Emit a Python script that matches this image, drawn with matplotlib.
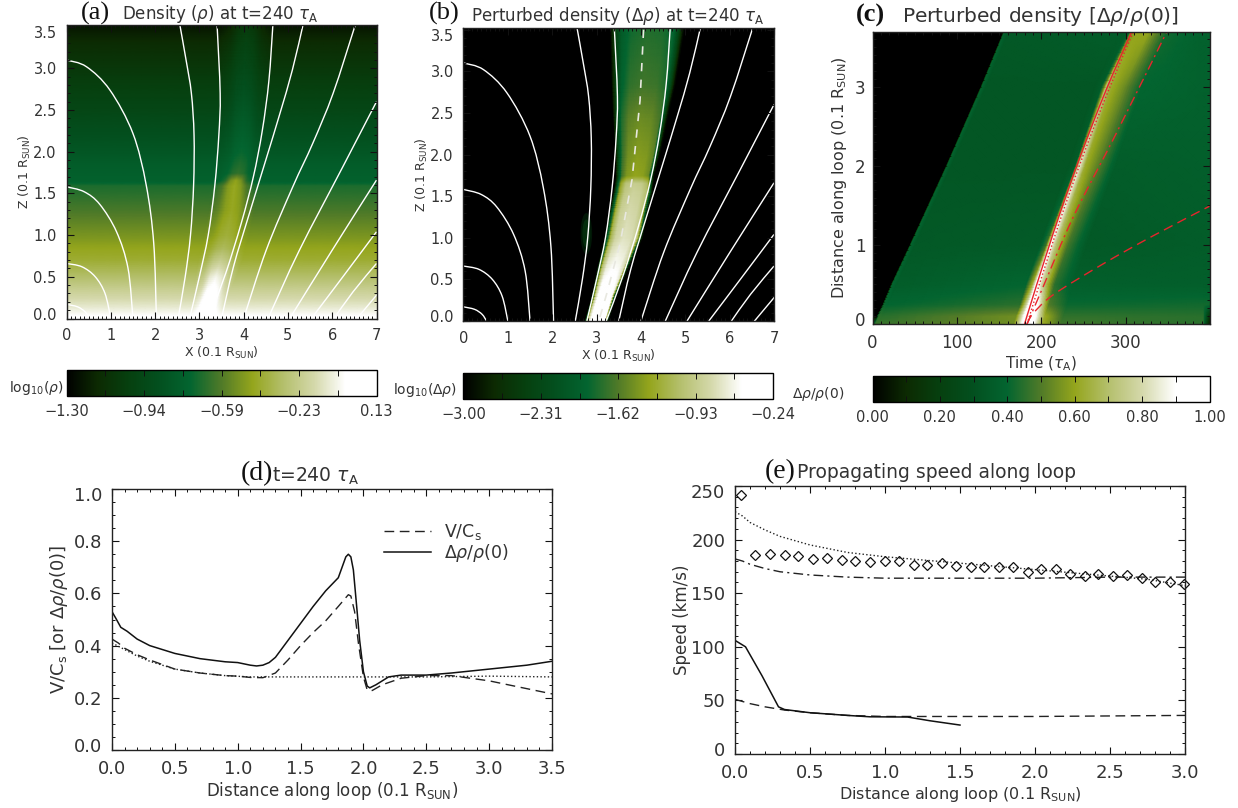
import numpy as np
import matplotlib
matplotlib.use("Agg")
import matplotlib.pyplot as plt
from matplotlib.colors import LinearSegmentedColormap
from matplotlib.cm import ScalarMappable
from matplotlib.colors import Normalize
from matplotlib.path import Path
from matplotlib.patches import PathPatch, Ellipse
from matplotlib.ticker import MultipleLocator
from matplotlib.transforms import ScaledTranslation

W, H = 1238, 808
plt.rcParams.update({'font.family': 'DejaVu Sans', 'mathtext.fontset': 'dejavusans',
                     'text.color': '#333333', 'xtick.color': '#111111', 'ytick.color': '#111111',
                     'xtick.labelcolor': '#333333', 'ytick.labelcolor': '#333333',
                     'axes.labelcolor': '#333333'})

# colour table
cmap_anchor = [0.0, 0.1, 0.2, 0.3, 0.4, 0.5, 0.6, 0.7, 0.8, 0.9, 1.0]
cmap_colors = ['#000000', '#0c2a02', '#06400f', '#03501f', '#036530', '#507a28', '#94a51c',
               '#b4bf6c', '#d4d8aa', '#ffffff', '#ffffff']
AIA = LinearSegmentedColormap.from_list('green', list(zip(cmap_anchor, cmap_colors)), N=512)

# magnetic field lines shared by panels a and b: (x, z)
field_x = [
    [0, .25, .42, .52],
    [0, .35, .65, .87, 1.0],
    [0, .4, .75, 1.13, 1.39, 1.5],
    [0, .45, .98, 1.5, 1.8, 1.97, 2.03],
    [2.56, 2.7, 2.82, 2.88, 2.87, 2.8, 2.68, 2.52],
    [3.40, 3.47, 3.44, 3.35, 3.2, 3.0, 2.78],
    [4.66, 4.57, 4.42, 4.22, 3.95, 3.6, 3.22],
    [5.34, 5.1, 4.82, 4.5, 4.13, 3.77, 3.5],
    [6.52, 6.02, 5.56, 5.11, 4.51, 4.0],
    [7.0, 6.24, 5.26, 4.55],
    [7.0, 6.0, 5.04],
    [7.0, 6.24, 5.53],
    [7.0, 6.47, 6.04],
    [7.0, 6.56],
]
field_z = [
    [.17, .14, .08, 0],
    [.66, .62, .5, .3, 0],
    [1.58, 1.52, 1.37, 1.04, .6, 0],
    [3.1, 3.02, 2.74, 2.22, 1.6, .9, 0],
    [3.52, 3.1, 2.7, 2.2, 1.6, 1.0, .5, 0],
    [3.52, 2.7, 2.2, 1.6, 1.0, .5, 0],
    [3.52, 2.85, 2.25, 1.7, 1.15, .55, 0],
    [3.52, 2.98, 2.46, 1.9, 1.26, .62, 0],
    [3.52, 2.7, 2.1, 1.58, .82, 0],
    [2.6, 1.82, .82, 0],
    [1.66, .82, 0],
    [1.04, .5, 0],
    [.66, .32, 0],
    [.28, 0],
]

# panel a: background by height and plume ridge
a_z = [0, .15, .3, .5, .7, .85, 1.0, 1.3, 1.6, 1.66, 1.75, 1.85, 2.0, 2.5, 3.0, 3.3, 3.52]
a_bg = [.92, .84, .78, .70, .63, .60, .56, .49, .43, .38, .37, .36, .33, .24, .16, .11, .05]
a_peak = [1.0, 1.0, .95, .88, .76, .68, .64, .61, .61, .60, .46, .44, .41, .34, .26, .22, .18]
a_ridge = [3.12, 3.2, 3.28, 3.38, 3.48, 3.55, 3.62, 3.74, 3.8, 3.83, 3.88, 3.92, 3.96, 4.0, 4.02, 4.05, 4.08]
a_width = [.32, .35, .4, .46, .5, .5, .52, .52, .48, .4, .42, .45, .5, .55, .6, .6, .6]
a_shape = [0, .3, .8, 1, .8, .3, 0]
a_offset = [-1, -.6, -.3, 0, .3, .6, 1]

# panel b: perturbed plume between two edges
b_z = [0, .3, .65, 1.0, 1.37, 1.55, 1.66, 1.75, 2.0, 2.45, 2.85, 3.52]
b_left = [2.78, 2.94, 3.08, 3.25, 3.38, 3.45, 3.48, 3.5, 3.5, 3.46, 3.44, 3.42]
b_right = [3.23, 3.4, 3.68, 3.98, 4.12, 4.2, 4.22, 4.24, 4.36, 4.52, 4.68, 4.87]
b_peak = [1.0, .98, .90, .83, .80, .78, .76, .60, .58, .54, .48, .44]
b_frac = [-.08, 0, .1, .25, .5, .75, .92, 1.0, 1.08]
b_shape = [0, .45, .8, .95, 1, .98, .9, .55, 0]
b_dash_x = [4.06, 3.98, 3.8, 3.53, 3.23, 3.05]
b_dash_z = [3.5, 2.65, 1.7, .93, .33, 0]

# panel c: time-distance map
c_z = [0, .1, .25, .5, 1.0, 2.0, 3.0, 3.7]
c_front = [3, 7, 14, 24, 46, 89, 130, 157]
c_ridge = [181, 184, 189, 196, 212, 246, 277, 307]
c_offset = [-14, -6, -2, 0, 6, 20, 42]
c_vals = [
    [.47, .47, .47, .47, .55, .85, 1, 1, 1, .62, .48, .45, .02],
    [0, 0, .46, .45, .55, .85, 1, 1, 1, .62, .46, .45, .12],
    [0, 0, .41, .40, .45, .80, 1, 1, .95, .50, .41, .42, .42],
    [0, 0, .40, .36, .40, .65, .95, .95, .75, .45, .37, .37, .37],
    [0, 0, .40, .34, .35, .48, .85, .90, .70, .48, .34, .36, .36],
    [0, 0, .39, .33, .33, .36, .75, .85, .62, .52, .36, .37, .37],
    [0, 0, .39, .33, .33, .36, .55, .72, .62, .55, .40, .38, .38],
    [0, 0, .39, .34, .36, .36, .40, .55, .60, .60, .42, .38, .38],
]
red_solid_t = [180, 214, 246, 277, 307]
red_solid_z = [0, 1.15, 2.12, 2.97, 3.7]
red_dot_t = [183, 217, 249, 280, 309]
red_dot_z = [0, 1.15, 2.12, 2.97, 3.7]
red_dd_t = [183, 202, 238, 289, 348.6]
red_dd_z = [0, .47, 1.36, 2.42, 3.7]
red_dash_t = [183, 190, 214, 273, 333, 399]
red_dash_z = [0, .13, .37, .76, 1.12, 1.49]

# panel d
d_x_solid = [0, .03, .07, .12, .2, .3, .4, .5, .7, .9, 1.0, 1.1, 1.15, 1.2, 1.25, 1.3, 1.4, 1.5, 1.6, 1.7, 1.75,
             1.8, 1.83, 1.86, 1.88, 1.9, 1.92, 1.95, 1.97, 2.0, 2.03, 2.05, 2.1, 2.2, 2.3, 2.5, 2.7, 3.0, 3.3, 3.5]
d_solid = [.53, .505, .47, .455, .425, .40, .385, .37, .35, .338, .335, .325, .322, .325, .335, .355, .42, .485,
           .55, .61, .635, .66, .70, .74, .75, .74, .69, .53, .42, .30, .245, .238, .25, .28, .287, .287, .295,
           .31, .325, .34]
d_x_dash = [0, .05, .1, .2, .3, .5, .7, .9, 1.0, 1.1, 1.2, 1.3, 1.4, 1.5, 1.6, 1.7, 1.8, 1.88, 1.9, 1.93, 1.96,
            2.0, 2.03, 2.07, 2.15, 2.3, 2.5, 2.7, 3.0, 3.3, 3.5]
d_dash = [.425, .41, .39, .365, .345, .31, .295, .285, .283, .278, .277, .295, .345, .40, .45, .495, .55, .595,
          .59, .53, .41, .28, .23, .228, .25, .275, .285, .285, .265, .235, .215]
d_x_dot = [0, .1, .2, .3, .5, .7, .9, 1.1, 1.5, 2.0, 2.5, 3.0, 3.5]
d_dot = [.41, .385, .36, .34, .31, .295, .285, .28, .28, .28, .28, .283, .28]

# panel e
e_x_diam = [.04, .13, .23, .33, .42, .52, .61, .71, .8, .9, 1.0, 1.09, 1.19, 1.28, 1.38, 1.47, 1.57, 1.66, 1.76,
            1.85, 1.95, 2.04, 2.14, 2.23, 2.33, 2.42, 2.52, 2.61, 2.71, 2.8, 2.9, 2.99]
e_diam = [242, 186, 187, 186, 185, 182, 183, 181, 180, 179, 180, 180, 176, 176, 178, 175, 174, 174, 174, 174, 170,
          173, 173, 168, 166, 168, 166, 167, 164, 160, 160, 159]
e_x_dot = [0, .05, .1, .2, .3, .5, .75, 1.0, 1.25, 1.5, 1.75, 2.0, 2.25, 2.5, 2.75, 3.0]
e_dot = [226, 222, 216, 209, 203, 195, 188, 184, 181, 178, 175, 172, 169, 166, 163, 157]
e_x_dd = [0, .05, .1, .2, .3, .5, .75, 1.0, 1.5, 2.0, 2.5, 3.0]
e_dd = [182, 180, 177, 173, 170, 167, 165, 164, 164, 164, 165, 165]
e_x_solid = [0, .07, .18, .29, .33, .5, .75, .9, 1.15, 1.3, 1.5]
e_solid = [106, 100, 73, 44, 41.5, 38.5, 36, 34.7, 34.5, 31, 27]
e_x_dash = [0, .1, .2, .33, .5, .75, 1.0, 1.5, 2.0, 2.5, 3.0]
e_dash = [51, 47, 44, 41, 38.5, 36, 35, 35, 35, 35.5, 36]

# colour bars
cb_a = ['\u22121.30', '\u22120.94', '\u22120.59', '\u22120.23', '0.13']
cb_b = ['\u22123.00', '\u22122.31', '\u22121.62', '\u22120.93', '\u22120.24']
cb_c = ['0.00', '0.20', '0.40', '0.60', '0.80', '1.00']

fig = plt.figure(figsize=(W / 100, H / 100), dpi=100, facecolor='white')


def axpx(l, t, r, b):
    return fig.add_axes([l / W, 1 - b / H, (r - l) / W, (b - t) / H])


def tpx(x, y, s, **kw):
    kw.setdefault('va', 'center')
    kw.setdefault('ha', 'left')
    fig.text(x / W, 1 - y / H, s, **kw)


def refine(a, k=8):
    a = np.asarray(a, float)
    r = np.arange((a.shape[0] - 1) * k + 1) / k
    c = np.arange((a.shape[1] - 1) * k + 1) / k
    a1 = np.array([np.interp(r, np.arange(a.shape[0]), a[:, j]) for j in range(a.shape[1])]).T
    return np.array([np.interp(c, np.arange(a.shape[1]), row) for row in a1])


def smooth_line(ax, xs, zs, **kw):
    p = np.column_stack([xs, zs]).astype(float)
    if len(p) < 3:
        ax.plot(xs, zs, **kw)
        return
    verts = [p[0]]
    codes = [Path.MOVETO]
    for i in range(len(p) - 1):
        p0 = p[max(i - 1, 0)]
        p1 = p[i]
        p2 = p[i + 1]
        p3 = p[min(i + 2, len(p) - 1)]
        verts += [p1 + (p2 - p0) / 6, p2 - (p3 - p1) / 6, p2]
        codes += [Path.CURVE4] * 3
    ax.add_patch(PathPatch(Path(verts, codes), fill=False, **kw))


def style(ax, xmaj, xmin, ymaj, ymin, size, pad=7, xpad=None):
    ax.xaxis.set_major_locator(MultipleLocator(xmaj))
    ax.xaxis.set_minor_locator(MultipleLocator(xmin))
    ax.yaxis.set_major_locator(MultipleLocator(ymaj))
    ax.yaxis.set_minor_locator(MultipleLocator(ymin))
    ax.tick_params(which='major', direction='in', top=True, right=True, length=5, width=.8,
                   labelsize=size, pad=pad)
    if xpad is not None:
        ax.tick_params(axis='x', which='major', pad=xpad)
    ax.tick_params(which='minor', direction='in', top=True, right=True, length=2.5, width=.7)
    for s in ax.spines.values():
        s.set_linewidth(1.0)
        s.set_color('#222222')


def edge_labels(ax, fmt, top=True):
    lo, hi = ax.get_ylim()
    tks = [t for t in ax.get_yticks() if lo - 1e-6 <= t <= hi + 1e-6]
    ax.set_yticks(tks)
    ax.set_yticklabels([fmt.format(t) for t in tks])
    ticklabs = ax.get_yticklabels()
    shift = ScaledTranslation(0, 5 / 100, fig.dpi_scale_trans)
    ticklabs[0].set_transform(ticklabs[0].get_transform() + shift)
    if top:
        shift = ScaledTranslation(0, -5 / 100, fig.dpi_scale_trans)
        ticklabs[-1].set_transform(ticklabs[-1].get_transform() + shift)


def colorbar(l, t, r, b, labels, name, nx, ny):
    cax = axpx(l, t, r, b)
    cb = fig.colorbar(ScalarMappable(Normalize(0, 1), AIA), cax=cax, orientation='horizontal')
    n = len(labels) - 1
    cb.set_ticks(np.linspace(0, 1, n + 1), labels=labels)
    cb.ax.set_xticks(np.linspace(0, 1, 2 * n + 1), minor=True)
    cax.tick_params(which='both', direction='in', top=True, bottom=True, length=4, width=.7)
    cax.tick_params(which='major', labelsize=10.5, pad=6)
    cb.outline.set_linewidth(1.0)
    tpx(nx, ny, name, fontsize=10)


ZLBL = 'Z (0.1 R$_{\\mathrm{SUN}}$)'
XLBL = 'X (0.1 R$_{\\mathrm{SUN}}$)'
DLBL = 'Distance along loop (0.1 R$_{\\mathrm{SUN}}$)'
SERIF = dict(family='Liberation Serif', color='#111111')

# ---------------- panel a
ax = axpx(66.5, 25, 376.5, 318.5)
X, Z, C = [], [], []
for z, bg, pk, r, w in zip(a_z, a_bg, a_peak, a_ridge, a_width):
    xs = [0.0] + [r + o * w for o in a_offset] + [7.0]
    cs = [bg] + [bg + s * (pk - bg) for s in a_shape] + [bg]
    X.append(xs)
    C.append(cs)
    Z.append([z] * len(xs))
ax.pcolormesh(refine(X), refine(Z), refine(C), shading='gouraud', cmap=AIA, vmin=0, vmax=1)
for fx, fz in zip(field_x, field_z):
    smooth_line(ax, fx, fz, color='white', lw=1.0)
ax.set_xlim(0, 7)
ax.set_ylim(0, 3.52)
style(ax, 1, .1, .5, .1, 10.5, xpad=7)
edge_labels(ax, '{:.1f}')
ax.set_xlabel(XLBL, fontsize=9, labelpad=1.5)
ax.set_ylabel(ZLBL, fontsize=9, labelpad=0)
colorbar(66.5, 370, 376.5, 396, cb_a, 'log$_{10}$($\\rho$)', 9, 388)
tpx(81, 13.5, '(a)', fontsize=19, **SERIF)
tpx(122, 14, 'Density ($\\rho$) at t=240 $\\tau_{\\mathrm{A}}$', fontsize=12)

# ---------------- panel b
ax = axpx(463.5, 28, 774, 321)
ax.set_facecolor('black')
X, Z, C = [], [], []
for z, l, r, pk in zip(b_z, b_left, b_right, b_peak):
    xs = [l + f * (r - l) for f in b_frac]
    cs = [s * pk for s in b_shape]
    X.append(xs)
    C.append(cs)
    Z.append([z] * len(xs))
ax.pcolormesh(refine(X), refine(Z), refine(C), shading='gouraud', cmap=AIA, vmin=0, vmax=1)
for w_, a_ in ((.26, .35), (.18, .5)):
    ax.add_patch(Ellipse((2.77, 1.05), w_, w_ * 1.9, color=AIA(.22), alpha=a_, lw=0))
for fx, fz in zip(field_x, field_z):
    smooth_line(ax, fx, fz, color='white', lw=1.0)
ax.plot(b_dash_x, b_dash_z, color='#e8e8e0', lw=1.2, dashes=(5, 5))
ax.set_xlim(0, 7)
ax.set_ylim(0, 3.52)
style(ax, 1, .1, .5, .1, 10.5, xpad=7)
edge_labels(ax, '{:.1f}')
ax.set_xlabel(XLBL, fontsize=9, labelpad=1.5)
ax.set_ylabel(ZLBL, fontsize=9, labelpad=0)
colorbar(463.5, 373, 773, 399, cb_b, 'log$_{10}$($\\Delta\\rho$)', 393, 390)
tpx(429, 13.5, '(b)', fontsize=19, **SERIF)
tpx(471, 16, 'Perturbed density ($\\Delta\\rho$) at t=240 $\\tau_{\\mathrm{A}}$', fontsize=12)

# ---------------- panel c
ax = axpx(872.5, 31.5, 1209.5, 324)
ax.set_facecolor('black')
X, Z = [], []
for z, f, r in zip(c_z, c_front, c_ridge):
    xs = [0.0, max(f - 1.5, .01), f, f + 5] + [r + o for o in c_offset] + [392.0, 400.0]
    X.append(xs)
    Z.append([z] * len(xs))
ax.pcolormesh(refine(X), refine(Z), refine(c_vals), shading='gouraud', cmap=AIA, vmin=0, vmax=1)
RED = '#e8242c'
smooth_line(ax, red_solid_t, red_solid_z, color=RED, lw=1.0)
smooth_line(ax, red_dot_t, red_dot_z, color=RED, lw=1.0, ls=':')
smooth_line(ax, red_dd_t, red_dd_z, color=RED, lw=1.0, ls=(0, (7, 3, 1.5, 3)))
smooth_line(ax, red_dash_t, red_dash_z, color=RED, lw=1.0, ls=(0, (7, 4)))
ax.set_xlim(0, 399)
ax.set_ylim(0, 3.7)
style(ax, 100, 10, 1, .1, 12, pad=5, xpad=7)
edge_labels(ax, '{:.0f}', top=False)
ax.set_xlabel('Time ($\\tau_{\\mathrm{A}}$)', fontsize=11, labelpad=2)
ax.set_ylabel('Distance along loop (0.1 R$_{\\mathrm{SUN}}$)', fontsize=11.5, labelpad=4)
colorbar(872.5, 376, 1209.5, 402, cb_c, '$\\Delta\\rho$/$\\rho$(0)', 792, 394)
tpx(856, 15, '(c)', fontsize=19, weight='bold', **SERIF)
tpx(902, 17, 'Perturbed density [$\\Delta\\rho$/$\\rho$(0)]', fontsize=14.5)

# ---------------- panel d
ax = axpx(112, 489, 552, 750)
ax.plot(d_x_dot, d_dot, color='#222222', lw=1.0, ls=':')
ax.plot(d_x_dash, d_dash, color='#222222', lw=1.0, dashes=(7, 4), label='V/C$_{\\mathrm{s}}$')
ax.plot(d_x_solid, d_solid, color='#111111', lw=1.1, label='$\\Delta\\rho$/$\\rho$(0)')
ax.set_xlim(0, 3.5)
ax.set_ylim(0, 1.0)
style(ax, .5, .1, .2, .05, 13)
edge_labels(ax, '{:.1f}')
ax.set_xlabel(DLBL, fontsize=12, labelpad=2)
ax.set_ylabel('V/C$_{\\mathrm{s}}$ [or $\\Delta\\rho$/$\\rho$(0)]', fontsize=13, labelpad=3)
ax.legend(loc='upper left', bbox_to_anchor=(.618, .874), frameon=False, fontsize=12.5, handlelength=2.7,
          labelspacing=0, handletextpad=.75, borderpad=0, borderaxespad=0)
tpx(241, 474, '(d)', fontsize=20, **SERIF)
tpx(272, 476, 't=240 $\\tau_{\\mathrm{A}}$', fontsize=13.5)

# ---------------- panel e
ax = axpx(735, 486, 1185, 754)
ax.plot(e_x_dot, e_dot, color='#222222', lw=1.0, ls=':')
ax.plot(e_x_dd, e_dd, color='#222222', lw=1.0, dashes=(7, 3, 1.5, 3))
ax.plot(e_x_dash, e_dash, color='#222222', lw=1.0, dashes=(7, 4))
ax.plot(e_x_solid, e_solid, color='#111111', lw=1.1)
ax.plot(e_x_diam, e_diam, ls='none', marker='D', ms=5.5, mfc='none', mec='#111111', mew=.9, clip_on=False)
ax.set_xlim(0, 3.0)
ax.set_ylim(0, 250)
style(ax, .5, .1, 50, 10, 13)
edge_labels(ax, '{:.0f}')
ax.set_xlabel(DLBL, fontsize=11.5, labelpad=2)
ax.set_ylabel('Speed (km/s)', fontsize=12, labelpad=0)
tpx(765, 472, '(e)', fontsize=20, **SERIF)
tpx(797, 473, 'Propagating speed along loop', fontsize=13.5)

fig.savefig('out.png', dpi=100)
